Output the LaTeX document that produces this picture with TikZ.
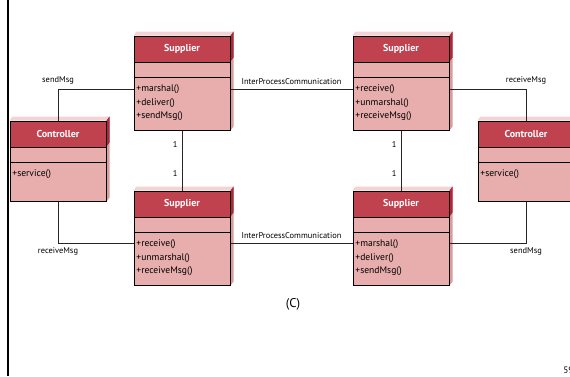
\documentclass[tikz,border=0pt]{standalone}
\usepackage{fontspec}
\setmainfont{PT Sans}
\usetikzlibrary{backgrounds}

\definecolor{headred}{HTML}{C1424F}
\definecolor{bodypink}{HTML}{E7AEAD}
\definecolor{toppink}{HTML}{F3D3D3}
\definecolor{sidered}{HTML}{B0263B}
\definecolor{sidepink}{HTML}{D99C9D}

% one UML class: #1 name, #2 centre, #3 title, #4 operations, #5 height
\newcommand{\umlclass}[5]{%
  \node[classbody, minimum height=#5] (#1) at (#2) {};
  \begin{pgfonlayer}{background}
    \fill[toppink] (#1.north west) -- ++(3,-4) -- ([shift={(3,-4)}]#1.north east) -- (#1.north east) -- cycle;
    \fill[sidepink] (#1.north east) -- ++(3,-4) -- ([shift={(3,-4)}]#1.south east) -- (#1.south east) -- cycle;
    \fill[sidered] (#1.north east) -- ++(3,-4) -- ([shift={(3,-4)},yshift=-19.5pt]#1.north east) -- ([yshift=-19.5pt]#1.north east) -- cycle;
  \end{pgfonlayer}
  \node[classhead] (#1-head) at (#1.north) {#3};
  \draw[line width=0.75pt] ([yshift=-31.5pt]#1.north west) -- ([yshift=-31.5pt]#1.north east);
  \node[classops] (#1-ops) at ([yshift=-31.5pt]#1.north west) {#4};
}

\begin{document}
\begin{tikzpicture}[x=0.75pt, y=-0.75pt,
  classbody/.style={draw=black, line width=0.75pt, fill=bodypink, minimum width=72pt, inner sep=0pt},
  classhead/.style={draw=black, line width=0.75pt, fill=headred, minimum width=72pt, minimum height=19.5pt,
                    anchor=north, inner sep=0pt, text=white, font=\bfseries\fontsize{7.5}{9}\selectfont},
  classops/.style={anchor=north west, align=left, inner xsep=2pt, inner ysep=5.5pt, font=\fontsize{7.2}{10}\selectfont},
  link/.style={draw=black!85, line width=0.75pt},
  lbl/.style={font=\fontsize{6.3}{7}\selectfont, inner sep=3pt}
]
  \useasboundingbox (0,0) rectangle (570,376);
  \clip (0,0) rectangle (570,376);

  \draw[line width=1.8pt] (7.8,0) -- (7.8,376);

  \umlclass{supA}{182,83}{Supplier}{+marshal()\\+deliver()\\+sendMsg()}{70.5pt}
  \umlclass{supB}{401,83}{Supplier}{+receive()\\+unmarshal()\\+receiveMsg()}{70.5pt}
  \umlclass{supC}{182,238}{Supplier}{+receive()\\+unmarshal()\\+receiveMsg()}{70.5pt}
  \umlclass{supD}{401,238}{Supplier}{+marshal()\\+deliver()\\+sendMsg()}{70.5pt}
  \umlclass{ctlL}{58,161}{Controller}{+service()}{60pt}
  \umlclass{ctlR}{526,161}{Controller}{+service()}{60pt}

  % top row
  \draw[link] ([yshift=-4.5pt]supA.west) -| (ctlL.north) node[lbl, pos=0.5, above] {sendMsg};
  \draw[link] ([yshift=-4.5pt]supA.east) -- ([yshift=-4.5pt]supB.west)
    node[lbl, midway, above] {InterProcessCommunication};
  \draw[link] ([yshift=-4.5pt]supB.east) -| (ctlR.north) node[lbl, pos=0.5, above] {receiveMsg};

  % bottom row
  \draw[link] (ctlL.south) |- ([yshift=-3.75pt]supC.west) node[lbl, pos=0.5, below] {receiveMsg};
  \draw[link] ([yshift=-3.75pt]supC.east) -- ([yshift=-3.75pt]supD.west)
    node[lbl, midway, above] {InterProcessCommunication};
  \draw[link] ([yshift=-3.75pt]supD.east) -| (ctlR.south) node[lbl, pos=0.5, below] {sendMsg};

  % multiplicities
  \draw[link] (supA) -- (supC)
    node[lbl, pos=0.23, left] {1} node[lbl, pos=0.72, left] {1};
  \draw[link] (supB) -- (supD)
    node[lbl, pos=0.23, left] {1} node[lbl, pos=0.72, left] {1};

  \node[font=\fontsize{9.5}{10}\selectfont] (cap) at (293,304) {(C)};
  \node[font=\fontsize{7}{8}\selectfont, anchor=west, inner sep=0pt] (pg) at (563,370) {59};
\end{tikzpicture}
\end{document}
